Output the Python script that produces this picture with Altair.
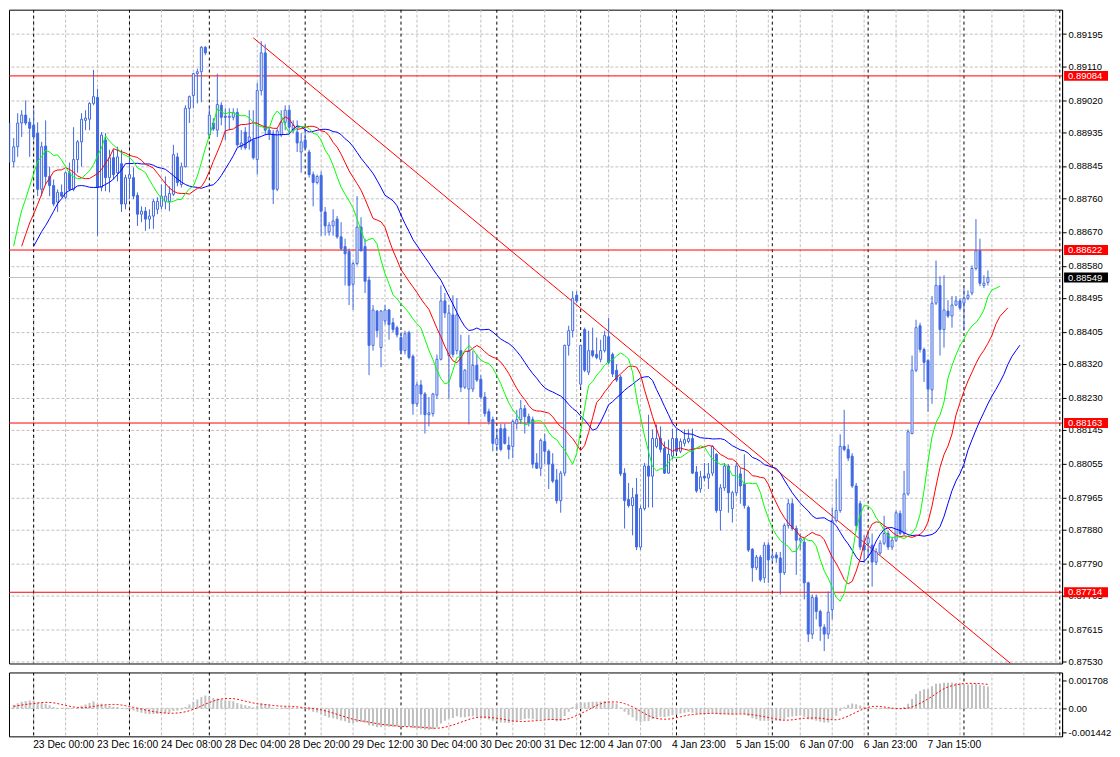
import altair as alt
import pandas as pd

# ---------------- data (H1 candles) ----------------
OPEN = [0.88521,0.88822,0.88909,0.88856,0.88896,0.88959,0.88980,0.88961,0.88953,0.88932,
0.88783,0.88898,0.88817,0.88793,0.88749,0.88775,0.88762,0.88827,0.88783,0.88862,
0.88909,0.88966,0.88969,0.89011,0.89027,0.88788,0.88914,0.88814,0.88867,0.88827,
0.88851,0.88744,0.88812,0.88814,0.88767,0.88717,0.88725,0.88704,0.88712,0.88730,
0.88738,0.88751,0.88751,0.88770,0.88869,0.88796,0.88843,0.88998,0.89032,0.89090,
0.89095,0.89160,0.88927,0.88959,0.88940,0.89006,0.88977,0.88974,0.88974,0.88987,
0.88896,0.88935,0.88909,0.88914,0.88862,0.89045,0.89145,0.88940,0.88930,0.88783,
0.88927,0.88961,0.88993,0.88940,0.88935,0.88882,0.88914,0.88882,0.88822,0.88801,
0.88820,0.88723,0.88670,0.88686,0.88704,0.88657,0.88631,0.88618,0.88531,0.88586,
0.88683,0.88631,0.88542,0.88369,0.88460,0.88363,0.88434,0.88463,0.88429,0.88416,
0.88390,0.88355,0.88403,0.88340,0.88214,0.88264,0.88240,0.88185,0.88188,0.88237,
0.88332,0.88487,0.88342,0.88450,0.88355,0.88355,0.88258,0.88253,0.88253,0.88316,
0.88279,0.88232,0.88193,0.88172,0.88106,0.88148,0.88148,0.88104,0.88101,0.88161,
0.88172,0.88201,0.88180,0.88172,0.88057,0.88043,0.88114,0.88088,0.88054,0.88012,
0.87957,0.88030,0.88369,0.88408,0.88502,0.88266,0.88411,0.88298,0.88355,0.88345,
0.88332,0.88355,0.88392,0.88345,0.88303,0.88285,0.88030,0.87960,0.87944,0.87973,
0.87834,0.87936,0.88049,0.88022,0.88101,0.88122,0.88096,0.88030,0.88075,0.88122,
0.88088,0.88109,0.88114,0.88122,0.88033,0.87988,0.88022,0.88017,0.88030,0.88080,
0.87931,0.87991,0.88049,0.87936,0.87978,0.88028,0.88001,0.87939,0.87828,0.87779,
0.87807,0.87752,0.87839,0.87805,0.87813,0.87805,0.87766,0.87891,0.87949,0.87883,
0.87852,0.87847,0.87739,0.87603,0.87700,0.87663,0.87621,0.87603,0.87668,0.87904,
0.87931,0.88101,0.88093,0.88075,0.87996,0.87949,0.87839,0.87844,0.87839,0.87794,
0.87818,0.87844,0.87870,0.87834,0.87852,0.87923,0.87870,0.87975,0.88135,0.88303,
0.88421,0.88358,0.88329,0.88251,0.88481,0.88528,0.88411,0.88460,0.88447,0.88476,
0.88487,0.88481,0.88494,0.88508,0.88573,0.88620,0.88528,0.88536]
HIGH = [0.88783,0.88948,0.88959,0.88919,0.88985,0.88993,0.89019,0.88972,0.88995,0.88961,
0.88909,0.88966,0.88843,0.88809,0.88783,0.88796,0.88830,0.88854,0.88948,0.88914,
0.88985,0.88993,0.89014,0.89100,0.89050,0.88935,0.88932,0.88888,0.88888,0.88896,
0.88888,0.88822,0.88869,0.88841,0.88775,0.88738,0.88736,0.88730,0.88757,0.88762,
0.88796,0.88817,0.88791,0.88901,0.88880,0.88854,0.89006,0.89032,0.89092,0.89103,
0.89163,0.89163,0.89003,0.88972,0.89090,0.89014,0.88998,0.88998,0.88998,0.88998,
0.88940,0.88948,0.88993,0.88993,0.89066,0.89176,0.89168,0.88948,0.88940,0.88945,
0.88993,0.89006,0.89006,0.88966,0.88966,0.88932,0.88945,0.88888,0.88830,0.88822,
0.88830,0.88736,0.88696,0.88730,0.88712,0.88696,0.88652,0.88626,0.88591,0.88765,
0.88709,0.88652,0.88552,0.88476,0.88463,0.88463,0.88476,0.88466,0.88442,0.88421,
0.88403,0.88408,0.88408,0.88345,0.88272,0.88277,0.88245,0.88232,0.88243,0.88345,
0.88528,0.88508,0.88476,0.88502,0.88494,0.88397,0.88306,0.88397,0.88355,0.88345,
0.88290,0.88245,0.88201,0.88180,0.88148,0.88161,0.88161,0.88127,0.88172,0.88198,
0.88224,0.88211,0.88188,0.88180,0.88083,0.88122,0.88135,0.88093,0.88083,0.88041,
0.88036,0.88371,0.88421,0.88513,0.88513,0.88371,0.88416,0.88408,0.88416,0.88390,
0.88384,0.88408,0.88442,0.88350,0.88319,0.88290,0.88043,0.88004,0.87991,0.88017,
0.87944,0.88057,0.88185,0.88146,0.88159,0.88154,0.88114,0.88119,0.88148,0.88148,
0.88122,0.88146,0.88146,0.88148,0.88049,0.88036,0.88057,0.88057,0.88104,0.88083,
0.88001,0.88057,0.88054,0.87983,0.88057,0.88043,0.88080,0.87944,0.87831,0.87813,
0.87813,0.87847,0.87847,0.87821,0.87821,0.87821,0.87897,0.87962,0.87962,0.87891,
0.87870,0.87857,0.87742,0.87708,0.87708,0.87668,0.87629,0.87716,0.87939,0.88015,
0.88133,0.88198,0.88106,0.88083,0.88004,0.87957,0.87865,0.87873,0.87870,0.87831,
0.87852,0.87917,0.87878,0.87860,0.87931,0.87931,0.88036,0.88146,0.88342,0.88437,
0.88429,0.88363,0.88332,0.88500,0.88594,0.88552,0.88555,0.88489,0.88500,0.88500,
0.88494,0.88521,0.88515,0.88581,0.88704,0.88652,0.88555,0.88568]
LOW = [0.88481,0.88817,0.88854,0.88841,0.88869,0.88922,0.88953,0.88869,0.88914,0.88765,
0.88765,0.88796,0.88765,0.88738,0.88723,0.88762,0.88757,0.88778,0.88778,0.88827,
0.88843,0.88940,0.88940,0.89006,0.88660,0.88778,0.88778,0.88775,0.88809,0.88804,
0.88723,0.88730,0.88757,0.88757,0.88686,0.88696,0.88673,0.88678,0.88678,0.88717,
0.88730,0.88730,0.88725,0.88765,0.88791,0.88788,0.88841,0.88959,0.88998,0.89011,
0.89014,0.89139,0.88922,0.88938,0.88922,0.88953,0.88914,0.88940,0.88966,0.88896,
0.88888,0.88888,0.88888,0.88862,0.88822,0.89032,0.88927,0.88914,0.88744,0.88778,
0.88922,0.88940,0.88932,0.88932,0.88882,0.88827,0.88888,0.88814,0.88738,0.88796,
0.88660,0.88660,0.88660,0.88660,0.88652,0.88620,0.88528,0.88476,0.88463,0.88581,
0.88618,0.88508,0.88290,0.88355,0.88390,0.88311,0.88424,0.88384,0.88403,0.88390,
0.88345,0.88345,0.88332,0.88185,0.88206,0.88185,0.88135,0.88154,0.88180,0.88227,
0.88329,0.88442,0.88227,0.88337,0.88345,0.88245,0.88253,0.88159,0.88245,0.88272,
0.88227,0.88180,0.88159,0.88088,0.88088,0.88088,0.88106,0.88067,0.88070,0.88146,
0.88161,0.88135,0.88154,0.88043,0.88041,0.88022,0.88054,0.87988,0.88004,0.87949,
0.87925,0.88022,0.88342,0.88390,0.88481,0.88258,0.88298,0.88290,0.88337,0.88332,
0.88324,0.88350,0.88319,0.88285,0.88272,0.88022,0.87883,0.87939,0.87865,0.87826,
0.87826,0.87931,0.87939,0.87939,0.88096,0.88085,0.88028,0.88028,0.88067,0.88083,
0.88083,0.88101,0.88109,0.88028,0.87978,0.87978,0.88009,0.87988,0.88022,0.87925,
0.87878,0.87983,0.87925,0.87899,0.87970,0.87949,0.87936,0.87821,0.87742,0.87773,
0.87742,0.87739,0.87739,0.87794,0.87792,0.87708,0.87760,0.87883,0.87878,0.87760,
0.87826,0.87695,0.87582,0.87590,0.87642,0.87585,0.87558,0.87590,0.87642,0.87899,
0.87925,0.88088,0.88062,0.87991,0.87878,0.87826,0.87792,0.87807,0.87729,0.87786,
0.87813,0.87839,0.87826,0.87826,0.87847,0.87865,0.87865,0.87970,0.88133,0.88298,
0.88350,0.88272,0.88193,0.88214,0.88476,0.88342,0.88363,0.88442,0.88416,0.88473,
0.88463,0.88408,0.88489,0.88502,0.88568,0.88526,0.88521,0.88528]
CLOSE = [0.88770,0.88909,0.88869,0.88896,0.88959,0.88980,0.88959,0.88945,0.88922,0.88783,
0.88896,0.88817,0.88793,0.88744,0.88775,0.88765,0.88827,0.88783,0.88862,0.88909,
0.88969,0.88972,0.89011,0.89029,0.88788,0.88927,0.88814,0.88867,0.88822,0.88869,
0.88744,0.88814,0.88822,0.88765,0.88717,0.88725,0.88704,0.88712,0.88751,0.88751,
0.88765,0.88765,0.88772,0.88875,0.88801,0.88843,0.88998,0.89029,0.89090,0.89095,
0.89160,0.89145,0.88980,0.88943,0.89008,0.88974,0.88974,0.88977,0.88987,0.88901,
0.88906,0.88893,0.88922,0.88867,0.89045,0.89145,0.88940,0.88930,0.88783,0.88938,
0.88961,0.88993,0.88948,0.88953,0.88906,0.88909,0.88893,0.88822,0.88801,0.88817,
0.88725,0.88686,0.88688,0.88699,0.88657,0.88626,0.88612,0.88528,0.88586,0.88683,
0.88620,0.88539,0.88369,0.88463,0.88408,0.88460,0.88463,0.88424,0.88411,0.88397,
0.88355,0.88400,0.88337,0.88214,0.88264,0.88240,0.88185,0.88190,0.88240,0.88332,
0.88487,0.88455,0.88455,0.88345,0.88450,0.88258,0.88303,0.88355,0.88316,0.88277,
0.88232,0.88188,0.88167,0.88109,0.88122,0.88093,0.88109,0.88093,0.88167,0.88172,
0.88201,0.88180,0.88164,0.88054,0.88043,0.88117,0.88088,0.88054,0.88009,0.87957,
0.88030,0.88369,0.88408,0.88494,0.88487,0.88369,0.88303,0.88355,0.88342,0.88337,
0.88355,0.88395,0.88324,0.88293,0.88277,0.88028,0.87957,0.87944,0.87965,0.87834,
0.87936,0.88049,0.88022,0.88122,0.88122,0.88093,0.88030,0.88080,0.88122,0.88088,
0.88114,0.88119,0.88122,0.88030,0.87983,0.88020,0.88017,0.88028,0.88101,0.87931,
0.87991,0.88049,0.87978,0.87978,0.88049,0.87996,0.87944,0.87826,0.87779,0.87807,
0.87747,0.87839,0.87800,0.87810,0.87805,0.87766,0.87891,0.87949,0.87883,0.87852,
0.87857,0.87739,0.87603,0.87700,0.87663,0.87624,0.87603,0.87661,0.87904,0.87931,
0.88101,0.88093,0.88070,0.87996,0.87891,0.87834,0.87826,0.87857,0.87794,0.87821,
0.87844,0.87870,0.87834,0.87852,0.87925,0.87870,0.87975,0.88140,0.88303,0.88416,
0.88358,0.88324,0.88253,0.88481,0.88528,0.88411,0.88463,0.88447,0.88476,0.88487,
0.88468,0.88494,0.88502,0.88573,0.88620,0.88534,0.88534,0.88549]

TIME_LABELS = ["23 Dec 00:00", "23 Dec 16:00", "24 Dec 08:00", "28 Dec 04:00",
               "28 Dec 20:00", "29 Dec 12:00", "30 Dec 04:00", "30 Dec 20:00",
               "31 Dec 12:00", "4 Jan 07:00", "4 Jan 23:00", "5 Jan 15:00",
               "6 Jan 07:00", "6 Jan 23:00", "7 Jan 15:00"]
LABEL_BARS = [8, 24, 40, 56, 72, 88, 104, 120, 136, 152, 168, 184, 200, 216, 232]
DAY_START_BARS = [8, 32, 52, 76, 100, 124, 145, 169, 193, 217, 241, 265]
GRID_BARS = [8, 16, 24, 32, 40, 48, 56, 64, 72, 80, 88, 96, 104, 112, 120, 128,
             136, 144, 152, 160, 168, 176, 184, 192, 200, 208, 216, 224, 232, 240,
             248, 256, 264]
PRICE_TICKS = [0.89195, 0.89110, 0.89020, 0.88935, 0.88845, 0.88760, 0.88670,
               0.88580, 0.88495, 0.88405, 0.88320, 0.88230, 0.88145, 0.88055,
               0.87965, 0.87880, 0.87790, 0.87705, 0.87615, 0.87530]
LEVELS = [0.89084, 0.88622, 0.88163, 0.87714]
BID = 0.88549
TREND_BARS = [63, 252.7]
TREND_PRICES = [0.89185, 0.87525]
MACD_TICKS = [0.001708, 0.0, -0.001442]
MACD_TICK_LABELS = ["0.001708", "0.00", "-0.001442"]

# ---------------- layout / style ----------------
W = 1055
H_MAIN = 655
H_IND = 64
X_DOMAIN = [1.825, 1.825 + W / 4.0]
Y_DOMAIN = [0.87525, 0.892597]
M_DOMAIN = [-0.001707, 0.002195]
FIRST_BAR = 3          # first bar whose body lies fully inside the plot
BLUE = "#4169e1"
GRID = "#c0c0c0"
FONT = "Liberation Sans"
FS = 9.5
FS_X = 10.3

n = len(CLOSE)
df = pd.DataFrame({"bar": list(range(n)), "open": OPEN, "high": HIGH,
                   "low": LOW, "close": CLOSE})

# Alligator (SMMA of median price, shifted) and MACD(12,26,9) derived from the candles
median = (df["high"] + df["low"]) / 2
def smma(s, p):
    return s.ewm(alpha=1.0 / p, adjust=False).mean()
lips = pd.DataFrame({"bar": df["bar"] + 3, "v": smma(median, 5)})
teeth = pd.DataFrame({"bar": df["bar"] + 5, "v": smma(median, 8)})
jaw = pd.DataFrame({"bar": df["bar"] + 8, "v": smma(median, 13)})
ema12 = df["close"].ewm(span=12, adjust=False).mean()
ema26 = df["close"].ewm(span=26, adjust=False).mean()
macd = ema12 - ema26
macd_df = pd.DataFrame({"bar": df["bar"], "macd": macd,
                        "signal": macd.rolling(9, min_periods=1).mean()})

vis = df[df["bar"] >= FIRST_BAR]
vis_wick = df[df["bar"] >= FIRST_BAR - 1]
macd_vis = macd_df[macd_df["bar"] >= FIRST_BAR]
grid_vis = [b for b in GRID_BARS if X_DOMAIN[0] <= b <= X_DOMAIN[1]]
sep_vis = [b for b in DAY_START_BARS if X_DOMAIN[0] <= b <= X_DOMAIN[1]]

grid_df = pd.DataFrame({"bar": grid_vis})
sep_df = pd.DataFrame({"bar": sep_vis})
lev_df = pd.DataFrame({"price": LEVELS})
bid_df = pd.DataFrame({"price": [BID]})
trend_df = pd.DataFrame({"bar": TREND_BARS, "price": TREND_PRICES})
badge_prices = LEVELS + [BID]
badge_df = pd.DataFrame({
    "price": badge_prices,
    "lo": [p - 0.000131 for p in badge_prices],
    "hi": [p + 0.000131 for p in badge_prices],
    "bg": ["#ff0000"] * len(LEVELS) + ["#000000"],
    "label": [f"{p:.5f}" for p in badge_prices],
})

xs = alt.Scale(domain=X_DOMAIN, nice=False, zero=False, padding=0)
ys = alt.Scale(domain=Y_DOMAIN, nice=False, zero=False, padding=0)
ms = alt.Scale(domain=M_DOMAIN, nice=False, zero=False, padding=0)

y_axis_main = alt.Axis(orient="right", values=PRICE_TICKS, format=".5f", grid=True,
                       gridColor=GRID, gridDash=[3, 2], gridWidth=1, tickSize=4,
                       tickColor="black", domain=True, domainColor="black",
                       labelFont=FONT, labelFontSize=FS, labelColor="black",
                       labelPadding=2, labelOverlap=False, title=None, zindex=0)

def X(field="bar"):
    return alt.X(f"{field}:Q", scale=xs, axis=None)

def Ym(field):
    return alt.Y(f"{field}:Q", scale=ys, axis=y_axis_main)

vgrid_main = alt.Chart(grid_df).mark_rule(color=GRID, strokeDash=[3, 2], clip=True).encode(x=X())
seps_main = alt.Chart(sep_df).mark_rule(color="black", strokeDash=[3, 3], clip=True).encode(x=X())
levels = alt.Chart(lev_df).mark_rule(color="#ff0000", strokeWidth=1).encode(y=Ym("price"))
bidline = alt.Chart(bid_df).mark_rule(color="#c0c0c0", strokeWidth=1).encode(y=Ym("price"))
trend = alt.Chart(trend_df).mark_line(color="#ff0000", strokeWidth=1, clip=True).encode(
    x=X(), y=Ym("price"))
wicks = alt.Chart(vis_wick).mark_rule(color=BLUE, strokeWidth=1, clip=True).encode(
    x=X(), y=Ym("low"), y2="high")
bodies = alt.Chart(vis).mark_bar(width=2, stroke=BLUE, strokeWidth=1, clip=True).encode(
    x=X(), y=Ym("open"), y2="close",
    fill=alt.condition("datum.close >= datum.open", alt.value("white"), alt.value(BLUE)))
jaw_l = alt.Chart(jaw).mark_line(color="#0000ff", strokeWidth=1, clip=True).encode(x=X(), y=Ym("v"))
teeth_l = alt.Chart(teeth).mark_line(color="#ff0000", strokeWidth=1, clip=True).encode(x=X(), y=Ym("v"))
lips_l = alt.Chart(lips).mark_line(color="#00ff00", strokeWidth=1, clip=True).encode(x=X(), y=Ym("v"))
badges = alt.Chart(badge_df).mark_rect().encode(
    x=alt.value(W + 2), x2=alt.value(W + 46), y=Ym("lo"), y2="hi",
    color=alt.Color("bg:N", scale=None))
badge_txt = alt.Chart(badge_df).mark_text(align="left", baseline="middle", color="white",
                                          font=FONT, fontSize=FS).encode(
    x=alt.value(W + 6), y=Ym("price"), text="label:N")

main = alt.layer(vgrid_main, seps_main, levels, bidline, trend, wicks, bodies,
                 jaw_l, teeth_l, lips_l, badges, badge_txt).properties(width=W, height=H_MAIN)

# ---------------- indicator panel ----------------
x_label_expr = "".join(f"datum.value == {b} ? '{t}' : " for b, t in zip(LABEL_BARS, TIME_LABELS)) + "''"
m_label_expr = "".join(f"abs(datum.value - ({v})) < 1e-9 ? '{t}' : "
                       for v, t in zip(MACD_TICKS, MACD_TICK_LABELS)) + "''"
x_axis_ind = alt.Axis(values=LABEL_BARS, labelExpr=x_label_expr, ticks=False, domain=False,
                      grid=False, labelAlign="left", labelBaseline="top", labelPadding=3,
                      labelOffset=-1, labelFont=FONT, labelFontSize=FS_X, labelColor="black",
                      labelFlush=False, labelOverlap=False, labelBound=False, title=None)
y_axis_ind = alt.Axis(orient="right", values=MACD_TICKS, labelExpr=m_label_expr, grid=False,
                      tickSize=4, tickColor="black", domain=True, domainColor="black",
                      labelFont=FONT, labelFontSize=FS, labelColor="black", labelPadding=2,
                      labelOverlap=False, title=None)

def Xi(field="bar"):
    return alt.X(f"{field}:Q", scale=xs, axis=x_axis_ind)

def Yi(field):
    return alt.Y(f"{field}:Q", scale=ms, axis=y_axis_ind)

zero_df = pd.DataFrame({"v": [0.0]})
vgrid_ind = alt.Chart(grid_df).mark_rule(color=GRID, strokeDash=[3, 2], clip=True).encode(x=Xi())
seps_ind = alt.Chart(sep_df).mark_rule(color="black", strokeDash=[3, 3], clip=True).encode(x=Xi())
zero_l = alt.Chart(zero_df).mark_rule(color=GRID, strokeDash=[3, 2]).encode(y=Yi("v"))
hist = alt.Chart(macd_vis).mark_bar(width=2, color="#c0c0c0", clip=True).encode(
    x=Xi(), y=Yi("macd"), y2=alt.datum(0))
sig = alt.Chart(macd_vis).mark_line(color="#ff0000", strokeWidth=1, strokeDash=[2, 2], clip=True).encode(
    x=Xi(), y=Yi("signal"))

ind = alt.layer(vgrid_ind, seps_ind, zero_l, hist, sig).properties(width=W, height=H_IND)

chart = alt.vconcat(main, ind, spacing=4).properties(
    padding=0, background="white"
).configure_view(stroke="black", strokeWidth=1).configure_concat(spacing=4)

chart.save("out.html", embed_options={"renderer": "svg", "actions": False})
